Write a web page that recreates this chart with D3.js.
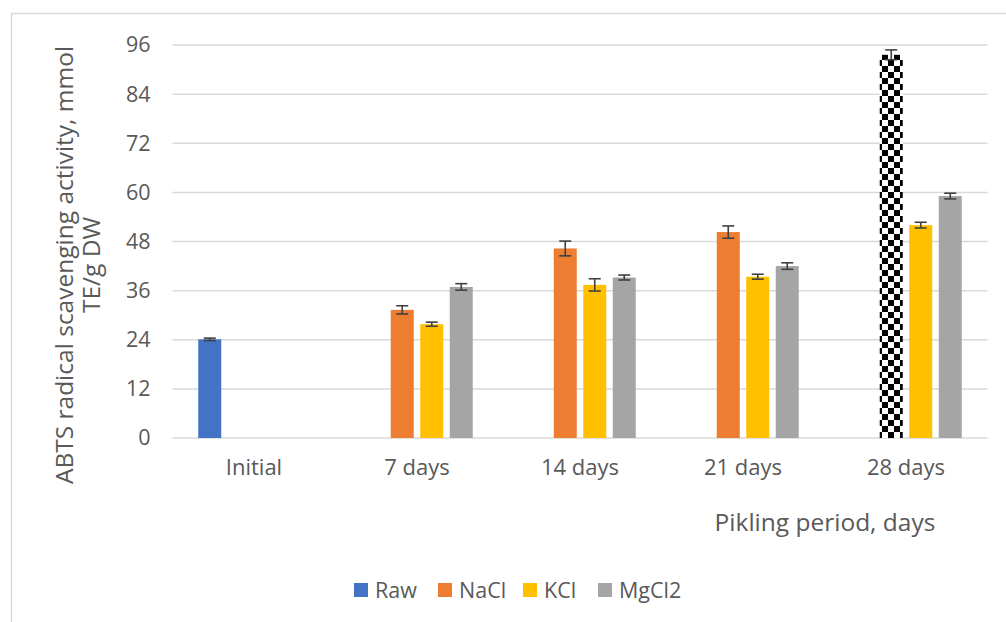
<!DOCTYPE html>
<html>
<head>
<meta charset="utf-8">
<script src="https://cdn.jsdelivr.net/npm/d3@7"></script>
<style>
  html, body { margin: 0; padding: 0; background: #fff; }
  svg { display: block; font-family: "Open Sans", "Noto Sans", sans-serif; }
</style>
</head>
<body>
<div id="chart"></div>
<script>
// Pickling period categories
const categories = ['Initial', '7 days', '14 days', '21 days', '28 days'];
const seriesNames = ['Raw', 'NaCl', 'KCl', 'MgCl2'];

// ABTS values (mmol TE/g DW), null = no bar
const rawValues   = [24.1, null, null, null, null];
const naclValues  = [null, 31.3, 46.3, 50.3, 93.6];
const kclValues   = [null, 27.8, 37.4, 39.4, 52.0];
const mgcl2Values = [null, 36.9, 39.2, 42.0, 59.1];

// error bar half-widths
const rawErr   = [0.3, null, null, null, null];
const naclErr  = [null, 1.0, 1.8, 1.5, 1.2];
const kclErr   = [null, 0.5, 1.5, 0.6, 0.7];
const mgcl2Err = [null, 0.8, 0.6, 0.8, 0.7];

const yTicks = [0, 12, 24, 36, 48, 60, 72, 84, 96];

const colors = { Raw: '#4472C4', NaCl: '#ED7D31', KCl: '#FFC000', MgCl2: '#A5A5A5' };
// the one bar drawn with the checkerboard fill
const patterned = { series: 'NaCl', category: '28 days' };

const seriesValues = { Raw: rawValues, NaCl: naclValues, KCl: kclValues, MgCl2: mgcl2Values };
const seriesErrors = { Raw: rawErr, NaCl: naclErr, KCl: kclErr, MgCl2: mgcl2Err };

const rows = [];
categories.forEach((c, i) => {
    seriesNames.forEach(s => {
        if (seriesValues[s][i] != null) {
            rows.push({ category: c, series: s, value: seriesValues[s][i], err: seriesErrors[s][i] });
        }
    });
});

const width = 1006, height = 622;
const plot = { left: 172.5, right: 987.5, top: 45, bottom: 438 };
const textColor = '#595959';

const svg = d3.select('#chart').append('svg')
    .attr('width', width)
    .attr('height', height);

// outer chart border
svg.append('rect')
    .attr('x', 11.5).attr('y', 13.5)
    .attr('width', 1006).attr('height', 640)
    .attr('fill', 'none')
    .attr('stroke', '#D9D9D9')
    .attr('stroke-width', 1.5);

// checker pattern
const defs = svg.append('defs');
const pat = defs.append('pattern')
    .attr('id', 'checker')
    .attr('patternUnits', 'userSpaceOnUse')
    .attr('width', 12).attr('height', 12);
pat.append('rect').attr('width', 12).attr('height', 12).attr('fill', '#fff');
pat.append('rect').attr('width', 6).attr('height', 6).attr('fill', '#000');
pat.append('rect').attr('x', 6).attr('y', 6).attr('width', 6).attr('height', 6).attr('fill', '#000');

const x0 = d3.scaleBand()
    .domain(categories)
    .range([plot.left, plot.right])
    .paddingInner(0).paddingOuter(0);

const groupW = 118;
const x1 = d3.scaleBand()
    .domain(seriesNames)
    .range([(x0.bandwidth() - groupW) / 2, (x0.bandwidth() + groupW) / 2])
    .paddingInner(0.22).paddingOuter(0.11);

const y = d3.scaleLinear()
    .domain([0, 96])
    .range([plot.bottom, plot.top]);

// gridlines
svg.append('g')
    .selectAll('line')
    .data(yTicks)
    .join('line')
    .attr('x1', plot.left).attr('x2', plot.right)
    .attr('y1', d => y(d)).attr('y2', d => y(d))
    .attr('stroke', '#D9D9D9')
    .attr('stroke-width', 1.5);

// y axis labels
const yAxis = svg.append('g')
    .attr('transform', `translate(${plot.left - 22},0)`)
    .call(d3.axisLeft(y).tickValues(yTicks).tickSize(0).tickPadding(0));
yAxis.select('.domain').remove();
yAxis.selectAll('text')
    .attr('fill', textColor)
    .attr('font-size', '21.5px')
    .attr('font-family', '"Open Sans", sans-serif');

// x axis labels
const xAxis = svg.append('g')
    .attr('transform', `translate(0,${plot.bottom + 21})`)
    .call(d3.axisBottom(x0).tickSize(0).tickPadding(0));
xAxis.select('.domain').remove();
xAxis.selectAll('text')
    .attr('fill', textColor)
    .attr('font-size', '22px')
    .attr('font-family', '"Open Sans", sans-serif');

// bars
svg.append('g')
    .selectAll('rect')
    .data(rows)
    .join('rect')
    .attr('x', d => x0(d.category) + x1(d.series))
    .attr('y', d => y(d.value))
    .attr('width', x1.bandwidth())
    .attr('height', d => y(0) - y(d.value))
    .attr('fill', d => (d.series === patterned.series && d.category === patterned.category)
        ? 'url(#checker)' : colors[d.series]);

// error bars
const errG = svg.append('g')
    .attr('stroke', '#404040')
    .attr('stroke-width', 1.6);
rows.forEach(d => {
    const cx = x0(d.category) + x1(d.series) + x1.bandwidth() / 2;
    const y1 = y(d.value + d.err), y2 = y(d.value - d.err);
    errG.append('line').attr('x1', cx).attr('x2', cx).attr('y1', y1).attr('y2', y2);
    errG.append('line').attr('x1', cx - 6).attr('x2', cx + 6).attr('y1', y1).attr('y2', y1);
    errG.append('line').attr('x1', cx - 6).attr('x2', cx + 6).attr('y1', y2).attr('y2', y2);
});

// y axis title
const yTitle = svg.append('text')
    .attr('transform', 'translate(73,265) rotate(-90)')
    .attr('text-anchor', 'middle')
    .attr('fill', textColor)
    .attr('font-size', '24.5px');
yTitle.append('tspan').attr('x', 0).attr('dy', 0).text('ABTS radical scavenging activity, mmol');
yTitle.append('tspan').attr('x', 0).attr('dy', 27).text('TE/g DW');

// x axis title
svg.append('text')
    .attr('x', 825).attr('y', 531)
    .attr('text-anchor', 'middle')
    .attr('fill', textColor)
    .attr('font-size', '24.5px')
    .text('Pikling period, days');

// legend
const legendX = [354, 438, 523, 598];
const legend = svg.append('g')
    .selectAll('g')
    .data(seriesNames)
    .join('g')
    .attr('transform', (d, i) => `translate(${legendX[i]},583)`);
legend.append('rect')
    .attr('width', 14).attr('height', 14)
    .attr('fill', d => colors[d]);
legend.append('text')
    .attr('x', 21).attr('y', 15)
    .attr('fill', textColor)
    .attr('font-size', '21.5px')
    .text(d => d);
</script>
</body>
</html>
